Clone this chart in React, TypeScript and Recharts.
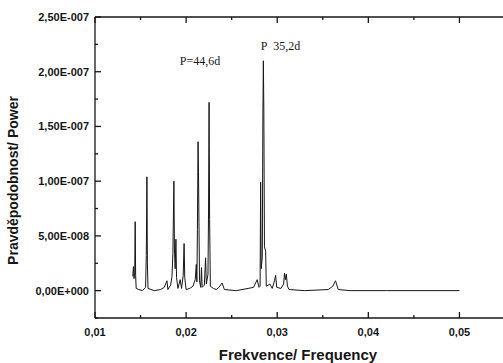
import { LineChart, Line, XAxis, YAxis, ReferenceDot, Label } from 'recharts';

// periodogram: frequency (1/day) against power
const frequency = [
  0.01415, 0.01422, 0.01428, 0.01436, 0.01441, 0.01446, 0.01452, 0.0148, 0.0152,
  0.01555, 0.01563, 0.0157, 0.01575, 0.01582, 0.0165, 0.0172, 0.0176, 0.0179, 0.018,
  0.0183, 0.01845, 0.01855, 0.01866, 0.01872, 0.0188, 0.01888, 0.01895, 0.0191,
  0.01935, 0.0195, 0.01968, 0.01978, 0.01985, 0.02, 0.0204, 0.02075, 0.021, 0.02112,
  0.02118, 0.02124, 0.02131, 0.02136, 0.02141, 0.02147, 0.0216, 0.02169, 0.02176,
  0.022, 0.02214, 0.02222, 0.0224, 0.02246, 0.02252, 0.02258, 0.02266, 0.023, 0.0233,
  0.0236, 0.02395, 0.0242, 0.0255, 0.0268, 0.0274, 0.0278, 0.028, 0.02812, 0.02818,
  0.02824, 0.02836, 0.02843, 0.02848, 0.02853, 0.0286, 0.02873, 0.0288, 0.0292,
  0.02945, 0.0297, 0.02982, 0.02995, 0.0304, 0.0307, 0.0308, 0.0309, 0.031, 0.03112,
  0.0313, 0.033, 0.0356, 0.0361, 0.0364, 0.0367, 0.038, 0.042, 0.05,
];

// power in units of 1e-8
const powerE8 = [
  1.3, 2.2, 1.1, 1.6, 6.3, 1.4, 0.2, 0.1, 0.0,
  0.3, 3.2, 10.4, 2.6, 0.2, 0.0, 0.1, 0.3, 0.9, 0.1,
  0.5, 1.3, 3.4, 10.0, 3.8, 2.0, 4.7, 1.2, 0.2,
  1.0, 0.2, 1.4, 4.3, 1.2, 0.1, 0.2, 0.4, 1.0, 2.4,
  0.8, 5.6, 13.6, 10.8, 6.2, 0.9, 0.3, 2.1, 0.3,
  0.5, 3.0, 0.6, 1.5, 7.0, 17.2, 6.5, 0.4, 0.2, 0.1,
  0.3, 0.7, 0.1, 0.0, 0.2, 0.3, 1.0, 0.3, 0.4, 9.9,
  2.0, 3.0, 16.2, 21.0, 16.5, 4.0, 3.6, 0.4, 0.6,
  0.2, 0.9, 1.4, 0.3, 0.2, 0.6, 1.6, 1.0, 1.5, 0.4,
  0.1, 0.0, 0.1, 0.4, 0.9, 0.1, 0.0, 0.0, 0.0,
];

const xTicks = [0.01, 0.015, 0.02, 0.025, 0.03, 0.035, 0.04, 0.045, 0.05];
const xMajor = [0.01, 0.02, 0.03, 0.04, 0.05];
const yTicks = [
  -2.5e-8, 0, 2.5e-8, 5e-8, 7.5e-8, 1e-7, 1.25e-7, 1.5e-7, 1.75e-7, 2e-7, 2.25e-7, 2.5e-7,
];
const yMajor = [0, 5e-8, 1e-7, 1.5e-7, 2e-7, 2.5e-7];

const notes = [
  { text: 'P=44,6d', f: 0.0193, p: 2.06e-7 },
  { text: 'P\u00a0\u00a035,2d', f: 0.02818, p: 2.2e-7 },
];

const spectrum = frequency.map((f, i) => ({ f, p: powerE8[i] * 1e-8 }));

const ink = '#161616';
const sans = '"Liberation Sans", Arial, sans-serif';
const serif = '"Liberation Serif", "Times New Roman", serif';

const near = (list: number[], v: number) => list.some((m) => Math.abs(m - v) < 1e-12);

const fmtFreq = (v: number) => v.toFixed(2).replace('.', ',');

// Origin-style scientific labels: 2,50E-007
const fmtPower = (v: number) => {
  const [mant, exp] = v.toExponential(2).split('e');
  const e = Number(exp);
  const sign = e < 0 ? '-' : '+';
  return `${mant.replace('.', ',')}E${sign}${String(Math.abs(e)).padStart(3, '0')}`;
};

const labelStyle = { fontFamily: sans, fontSize: 11, fontWeight: 700, fill: ink };
const tickStroke = { stroke: ink, strokeWidth: 1.3 };

// all frame ticks point into the plot
function BottomTick({ x, y, payload }: any) {
  const major = near(xMajor, payload.value);
  return (
    <g>
      <line x1={x} y1={y} x2={x} y2={y - (major ? 6 : 3)} {...tickStroke} />
      {major && (
        <text x={x} y={y + 18} textAnchor="middle" {...labelStyle}>
          {fmtFreq(payload.value)}
        </text>
      )}
    </g>
  );
}

function TopTick({ x, y, payload }: any) {
  const major = near(xMajor, payload.value);
  return <line x1={x} y1={y} x2={x} y2={y + (major ? 6 : 3)} {...tickStroke} />;
}

function LeftTick({ x, y, payload }: any) {
  const major = near(yMajor, payload.value);
  return (
    <g>
      <line x1={x} y1={y} x2={x + (major ? 6 : 3)} y2={y} {...tickStroke} />
      {major && (
        <text x={x - 6} y={y + 4} textAnchor="end" {...labelStyle}>
          {fmtPower(payload.value)}
        </text>
      )}
    </g>
  );
}

function RightTick({ x, y, payload }: any) {
  const major = near(yMajor, payload.value);
  return <line x1={x} y1={y} x2={x - (major ? 6 : 4)} y2={y} {...tickStroke} />;
}

export default function App() {
  return (
    <div style={{ position: 'absolute', left: 0, top: 0, width: 503, height: 363, overflow: 'hidden', background: '#fff' }}>
      <LineChart
        width={515}
        height={363}
        data={spectrum}
        margin={{ top: 16, right: 0, bottom: 0, left: 0 }}
      >
        <XAxis
          xAxisId="bottom"
          dataKey="f"
          type="number"
          domain={[0.01, 0.055]}
          ticks={xTicks}
          interval={0}
          height={45}
          tickSize={0}
          tickMargin={0}
          tickLine={false}
          tick={BottomTick}
          axisLine={{ stroke: ink, strokeWidth: 1.3 }}
        >
          <Label
            content={({ viewBox }: any) => (
              <text
                x={viewBox.x + viewBox.width / 2 - 2}
                y={viewBox.y + 42}
                textAnchor="middle"
                fontFamily={sans}
                fontSize={15}
                fontWeight={700}
                fill={ink}
              >
                Frekvence/ Frequency
              </text>
            )}
          />
        </XAxis>
        <XAxis
          xAxisId="top"
          orientation="top"
          dataKey="f"
          type="number"
          domain={[0.01, 0.055]}
          ticks={xTicks}
          interval={0}
          height={1}
          tickSize={0}
          tickMargin={0}
          tickLine={false}
          tick={TopTick}
          axisLine={{ stroke: ink, strokeWidth: 1.3 }}
        />
        <YAxis
          yAxisId="left"
          type="number"
          domain={[-2.5e-8, 2.5e-7]}
          ticks={yTicks}
          interval={0}
          width={95}
          tickSize={0}
          tickMargin={0}
          tickLine={false}
          tick={LeftTick}
          axisLine={{ stroke: ink, strokeWidth: 1.3 }}
        >
          <Label
            content={({ viewBox }: any) => {
              const cx = viewBox.x + 18;
              const cy = viewBox.y + viewBox.height / 2 + 13;
              return (
                <text
                  x={cx}
                  y={cy}
                  transform={`rotate(-90 ${cx} ${cy})`}
                  textAnchor="middle"
                  fontFamily={sans}
                  fontSize={14}
                  fontWeight={700}
                  fill={ink}
                >
                  Pravděpodobnost/ Power
                </text>
              );
            }}
          />
        </YAxis>
        <YAxis
          yAxisId="right"
          orientation="right"
          type="number"
          domain={[-2.5e-8, 2.5e-7]}
          ticks={yTicks}
          interval={0}
          width={10}
          tickSize={0}
          tickMargin={0}
          tickLine={false}
          tick={RightTick}
          axisLine={{ stroke: ink }}
        />
        <Line
          xAxisId="bottom"
          yAxisId="left"
          type="linear"
          dataKey="p"
          stroke={ink}
          strokeWidth={1}
          dot={false}
          activeDot={false}
          isAnimationActive={false}
        />
        {notes.map((n) => (
          <ReferenceDot
            key={n.text}
            xAxisId="bottom"
            yAxisId="left"
            x={n.f}
            y={n.p}
            r={0}
            fill="none"
            stroke="none"
            label={{
              content: ({ viewBox }: any) => (
                <text x={viewBox.x} y={viewBox.y} fontFamily={serif} fontSize={12} fill={ink}>
                  {n.text}
                </text>
              ),
            }}
          />
        ))}
      </LineChart>
    </div>
  );
}
